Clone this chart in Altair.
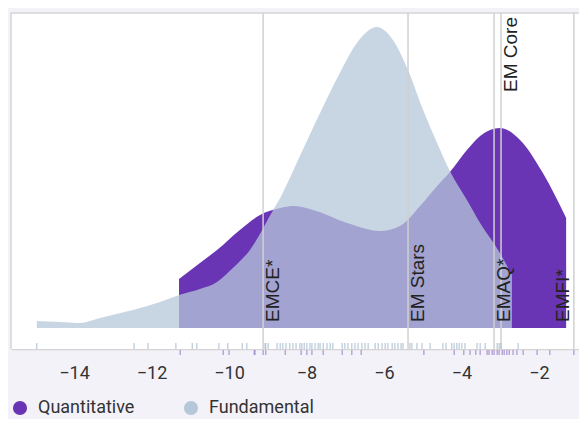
import altair as alt
import pandas as pd

# ---- data ----
groups = ["Quantitative", "Fundamental"]

fund_x = [-14.96, -14.36, -13.85, -13.33, -12.48, -11.78, -11.29, -10.75, -10.31, -9.90,
          -9.46, -8.86, -8.68, -8.17, -7.65, -7.14, -6.70, -6.18, -5.77, -5.38,
          -4.99, -4.63, -4.30, -3.86, -3.52, -3.01, -2.70]
fund_d = [0.007, 0.006, 0.005, 0.010, 0.018, 0.026, 0.033, 0.039, 0.046, 0.060,
          0.078, 0.118, 0.130, 0.172, 0.215, 0.255, 0.285, 0.301, 0.288, 0.258,
          0.218, 0.185, 0.157, 0.128, 0.105, 0.075, 0.053]

quant_x = [-11.29, -10.75, -10.31, -9.72, -9.20, -8.68, -8.35, -7.83, -6.95, -6.10,
           -5.59, -5.07, -4.63, -4.30, -3.86, -3.52, -3.01, -2.49, -1.90, -1.30]
quant_d = [0.049, 0.065, 0.078, 0.098, 0.113, 0.120, 0.122, 0.118, 0.105, 0.097,
           0.102, 0.122, 0.142, 0.156, 0.178, 0.192, 0.200, 0.188, 0.155, 0.110]

fund_rug = [-14.96, -12.45, -12.09, -11.37, -10.95, -10.83, -10.26, -10.03, -9.66, -9.54,
            -9.07, -9.05, -8.99, -8.76, -8.68, -8.61, -8.53, -8.43, -8.35, -8.27,
            -8.17, -8.12, -8.06, -7.99, -7.91, -7.86, -7.78, -7.70, -7.65, -7.57,
            -7.47, -7.39, -7.32, -7.08, -7.01, -6.93, -6.83, -6.75, -6.67, -6.57,
            -6.49, -6.41, -6.23, -6.15, -6.05, -5.97, -5.90, -5.79, -5.72, -5.64,
            -5.56, -5.51, -5.33, -5.28, -5.15, -5.02, -4.81, -4.48, -4.40, -4.25,
            -4.19, -4.12, -4.06, -3.99, -3.91, -3.60, -3.52, -3.39, -3.08, -3.03,
            -2.98, -2.54]
quant_rug = [-11.26, -10.15, -10.00, -9.35, -9.33, -9.12, -9.05, -8.55, -8.14, -7.99,
             -7.86, -7.57, -7.08, -6.83, -6.59, -4.97, -4.19, -3.94, -3.78, -3.63,
             -3.52, -3.34, -3.29, -3.21, -3.16, -3.08, -3.03, -2.95, -2.90, -2.83,
             -2.77, -2.67, -2.57, -2.41, -2.05, -1.72, -1.10]

line_names = ["EMCE*", "EM Stars", "EMAQ*", "EM Core", "EMFI*"]
line_vals = [-9.12, -5.38, -3.16, -2.98, -1.10]
label_pos = ["bottom", "bottom", "bottom", "top", "left"]

tick_vals = [-14, -12, -10, -8, -6, -4, -2]

# ---- styling ----
PURPLE = "#6a35b5"
BLUE = "#b5c8d9"
W, H = 568, 336
XDOM = [-15.626, -0.968]
YDOM = [-0.021, 0.315]

xscale = alt.Scale(domain=XDOM, nice=False, zero=False)
yscale = alt.Scale(domain=YDOM, nice=False, zero=False)
cscale = alt.Scale(domain=groups, range=[PURPLE, BLUE])

qdf = pd.DataFrame({"x": quant_x, "d": quant_d, "group": "Quantitative"})
fdf = pd.DataFrame({"x": fund_x, "d": fund_d, "group": "Fundamental"})

legend = alt.Legend(
    orient="none", legendX=0, legendY=386, direction="horizontal", title=None,
    symbolType="circle", symbolSize=200, symbolOpacity=1, symbolStrokeWidth=0,
    labelFont="Roboto", labelFontSize=18, labelColor="#333333", labelOffset=9,
    columnPadding=47,
)

xaxis = alt.Axis(
    values=tick_vals, format="d", ticks=False, grid=False,
    domainColor="#d4d4d4", domainWidth=1.5, labelFont="Roboto", labelFontSize=18,
    labelColor="#333333", labelPadding=15, title=None,
)

one = pd.DataFrame({"a": [0]})
view_bg = alt.Chart(one).mark_rect(color="white").encode(
    x=alt.value(0), x2=alt.value(W), y=alt.value(0), y2=alt.value(H))

q_area = alt.Chart(qdf).mark_area(interpolate="monotone").encode(
    x=alt.X("x:Q", scale=xscale, axis=xaxis),
    y=alt.Y("d:Q", scale=yscale, axis=None),
    y2=alt.datum(0),
    color=alt.Color("group:N", scale=cscale, legend=legend),
)
f_area = alt.Chart(fdf).mark_area(interpolate="monotone", opacity=0.75).encode(
    x=alt.X("x:Q", scale=xscale),
    y=alt.Y("d:Q", scale=yscale),
    y2=alt.datum(0),
    color=alt.Color("group:N", scale=cscale, legend=legend),
)

rug_f = alt.Chart(pd.DataFrame({"v": fund_rug})).mark_rule(color="#a9bdd0", strokeWidth=1).encode(
    x=alt.X("v:Q", scale=xscale), y=alt.value(330), y2=alt.value(336))
rug_q = alt.Chart(pd.DataFrame({"v": quant_rug})).mark_rule(color="#9b82cc", strokeWidth=1).encode(
    x=alt.X("v:Q", scale=xscale), y=alt.value(337), y2=alt.value(342))

ldf = pd.DataFrame({"name": line_names, "v": line_vals, "pos": label_pos})
rules = alt.Chart(ldf).mark_rule(color="#d0d0d0", strokeWidth=1.5).encode(
    x=alt.X("v:Q", scale=xscale), y=alt.value(0), y2=alt.value(H))
txt_bottom = alt.Chart(ldf[ldf["pos"] == "bottom"]).mark_text(
    angle=270, align="left", baseline="top", font="Liberation Sans", fontSize=19,
    color="#222222", dy=1).encode(
    x=alt.X("v:Q", scale=xscale), y=alt.value(309), text="name:N")
txt_top = alt.Chart(ldf[ldf["pos"] == "top"]).mark_text(
    angle=270, align="right", baseline="top", font="Liberation Sans", fontSize=19,
    color="#222222", dy=1).encode(
    x=alt.X("v:Q", scale=xscale), y=alt.value(4), text="name:N")
txt_left = alt.Chart(ldf[ldf["pos"] == "left"]).mark_text(
    angle=270, align="left", baseline="bottom", font="Liberation Sans", fontSize=19,
    color="#222222", dy=-1).encode(
    x=alt.X("v:Q", scale=xscale), y=alt.value(309), text="name:N")

border_left = alt.Chart(one).mark_rule(color="#d4d4d4", strokeWidth=1.5).encode(
    x=alt.value(0), y=alt.value(0), y2=alt.value(H))
border_top = alt.Chart(one).mark_rule(color="#d4d4d4", strokeWidth=1.5).encode(
    x=alt.value(0), x2=alt.value(W), y=alt.value(0))

chart = alt.layer(
    view_bg, q_area, f_area, rules, rug_f, rug_q, txt_bottom, txt_top, txt_left,
    border_left, border_top
).properties(
    width=W, height=H,
    autosize=alt.AutoSizeParams(type="none"),
    padding={"left": 3, "top": 5, "right": 0, "bottom": 70},
    background="#f4f2f9",
).configure_view(stroke=None)

chart.save("out.html", embed_options={"renderer": "svg", "actions": False})
